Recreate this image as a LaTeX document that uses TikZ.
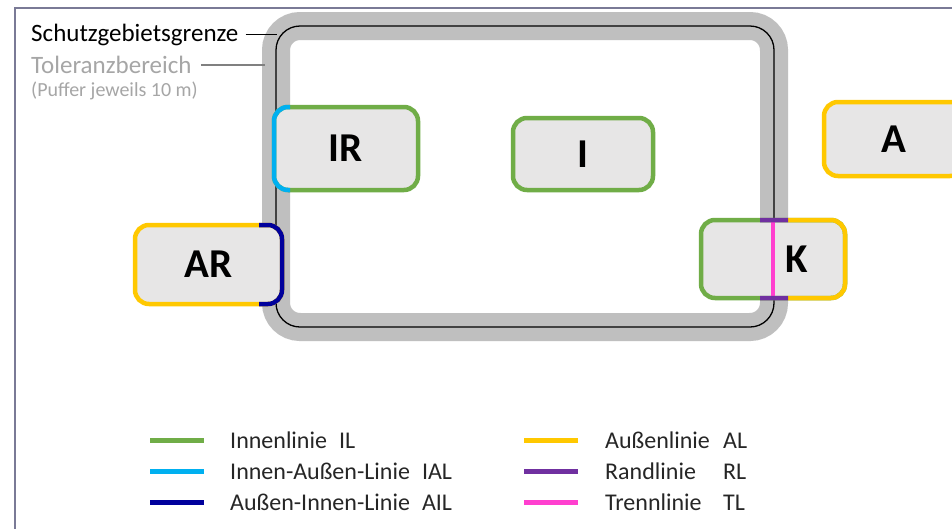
\documentclass[tikz,border=0pt]{standalone}
\usepackage{fontspec}
\setmainfont{Carlito}
\definecolor{cgreen}{HTML}{70AD47}
\definecolor{clblue}{HTML}{00B0F0}
\definecolor{cnavy}{HTML}{00009C}
\definecolor{cyellow}{HTML}{FFC800}
\definecolor{cpurple}{HTML}{7030A0}
\definecolor{cpink}{HTML}{FF3FCF}
\definecolor{cband}{HTML}{BFBFBF}
\definecolor{cfill}{HTML}{E7E6E6}
\definecolor{cgraytxt}{HTML}{A6A6A6}
\definecolor{cframe}{HTML}{7A7A96}
\begin{document}
\begin{tikzpicture}[x=1pt,y=-1pt,
  area/.style={draw, line width=4.5pt, fill=cfill, rounded corners=14pt, outer sep=0pt, inner sep=0pt,
    font=\fontsize{41}{49}\selectfont\bfseries},
  edge/.style={line width=4.5pt, rounded corners=14pt},
  swatch/.style={line width=5pt},
  legtext/.style={anchor=base west, inner sep=0pt, font=\fontsize{24}{29}\selectfont, text=black!85},
  hdr/.style={anchor=base west, inner sep=0pt, font=\fontsize{25}{30}\selectfont}]
\useasboundingbox (0,0) rectangle (952,528);
\clip (0,0) rectangle (952,528);
\fill[white] (0,0) rectangle (952,528);
% frame
\draw[cframe, line width=2pt] (15,8) rectangle (1000,600);
% protected area band and boundary
\draw[cband, line width=28pt, rounded corners=24pt] (276,26) rectangle (774,327);
\draw[black, line width=1.3pt, rounded corners=24pt] (276,26) rectangle (774,327);
% areas
\node[area, draw=cgreen, minimum width=144pt, minimum height=83pt] (IR) at (346,148.5) {IR};
\begin{scope}
  \clip (250,90) rectangle (290,210);
  \draw[edge, clblue] (IR.north west) rectangle (IR.south east);
\end{scope}
\node[area, draw=cgreen, minimum width=140pt, minimum height=72pt] (I) at (583,154) {I};
\node[area, draw=cyellow, minimum width=140pt, minimum height=74pt] (A) at (894,139) {A};
\node[area, draw=cyellow, minimum width=147pt, minimum height=79pt] (AR) at (208.5,264.5) {AR};
\begin{scope}
  \clip (259,215) rectangle (300,315);
  \draw[edge, cnavy] (AR.north west) rectangle (AR.south east);
\end{scope}
\node[area, draw=cgreen, minimum width=144pt, minimum height=78pt] (K) at (773,259) {};
\begin{scope}
  \clip (788,200) rectangle (870,320);
  \draw[edge, cyellow] (K.north west) rectangle (K.south east);
\end{scope}
\draw[cpink, line width=4pt] (K.north) -- (K.south);
\begin{scope}
  \clip (760,200) rectangle (788,320);
  \draw[edge, cpurple] (K.north west) rectangle (K.south east);
\end{scope}
\node[font=\fontsize{41}{49}\selectfont\bfseries, inner sep=0pt] (Klab) at (797,259) {K};
% top-left labels
\node[hdr] (sg) at (31,41) {Schutzgebietsgrenze};
\coordinate (sgpt) at (277,33);
\draw[black, line width=1.2pt] ([xshift=7pt]sg.east) -- (sgpt |- sg.east);
\node[hdr, text=cgraytxt] (tol) at (31,73.5) {Toleranzbereich};
\coordinate (tolpt) at (265,70);
\draw[gray, line width=1.2pt] ([xshift=9pt]tol.east) -- (tolpt |- tol.east);
\node[anchor=base west, inner sep=0pt, font=\fontsize{20}{24}\selectfont, text=cgraytxt] (puf) at (31,96) {(Puffer jeweils 10 m)};
% legend
\draw[swatch, cgreen] (150,440) -- (204,440);
\draw[swatch, clblue] (150,471) -- (204,471);
\draw[swatch, cnavy] (150,502) -- (204,502);
\node[legtext] (l1) at (230,448) {Innenlinie\hspace{12pt}IL};
\node[legtext] (l2) at (230,479) {Innen-Außen-Linie\hspace{12pt}IAL};
\node[legtext] (l3) at (230,510) {Außen-Innen-Linie\hspace{12pt}AIL};
\draw[swatch, cyellow] (524,440) -- (578,440);
\draw[swatch, cpurple] (524,471) -- (578,471);
\draw[swatch, cpink] (524,502) -- (578,502);
\node[legtext] (r1) at (605,448) {\makebox[118pt][l]{Außenlinie}AL};
\node[legtext] (r2) at (605,479) {\makebox[118pt][l]{Randlinie}RL};
\node[legtext] (r3) at (605,510) {\makebox[118pt][l]{Trennlinie}TL};
\end{tikzpicture}
\end{document}
